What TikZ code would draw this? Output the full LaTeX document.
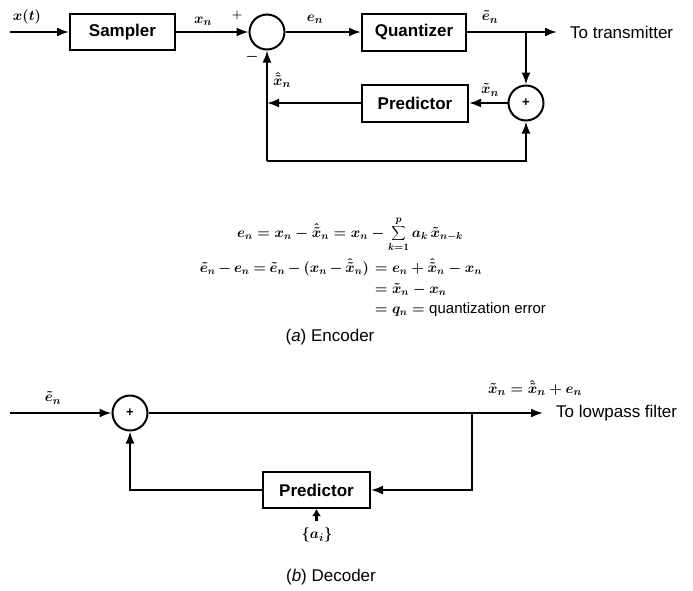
\documentclass[tikz,border=0pt]{standalone}
\usepackage{fontspec}
\setmainfont{Liberation Sans}
\usetikzlibrary{arrows.meta}
\begin{document}
\begin{tikzpicture}[x=1pt,y=-1pt,
  txt/.style={inner sep=0pt, font=\fontsize{17}{20}\selectfont},
  blk/.style={draw, line width=2pt, minimum width=106pt, minimum height=37pt, inner sep=0pt, font=\fontsize{17}{20}\selectfont\bfseries},
  sumc/.style={draw, circle, line width=2pt, minimum size=35pt, inner sep=0pt, font=\fontsize{13}{14}\selectfont\bfseries},
  wire/.style={line width=2pt},
  arr/.style={wire, -{Latex[length=12pt,width=9pt]}},
  lbl/.style={inner sep=0pt, font=\fontsize{15}{18}\selectfont\boldmath},
  eq/.style={inner sep=0pt, font=\fontsize{14}{17}\selectfont\boldmath},
]
\useasboundingbox (0,0) rectangle (693,590);

% ---------- Encoder ----------
\coordinate (in1) at (10,32);
\node[blk, minimum width=105pt, minimum height=36pt] (samp) at (122.5,32) {Sampler};
\node[sumc] (s1) at (267,32) {};
\node[blk, minimum width=104pt] (quant) at (414,32) {Quantizer};
\coordinate (j1) at (526,32);
\coordinate (out1) at (557,32);
\node[sumc] (p1) at (526,103) {+};
\node[blk] (pred1) at (415,103) {Predictor};
\coordinate (j2) at (267,103);
\coordinate (b1) at (267,161);
\coordinate (b2) at (526,161);

\draw[arr] (in1) -- (samp);
\draw[arr] (samp) -- (s1);
\draw[arr] (s1) -- (quant);
\draw[arr] (quant) -- (out1);
\draw[arr] (j1) -- (p1);
\draw[arr] (p1) -- (pred1);
\draw[arr] (pred1) -- (j2);
\draw[arr] (b1) -- (s1);
\draw[arr] (b1) -- (b2) -- (p1);

\node[lbl] (lxt) at (27,17) {$x(t)$};
\node[lbl] (lxn) at (203,21) {$x_n$};
\node[lbl, font=\fontsize{12}{14}\selectfont\boldmath] (lplus) at (237,15) {$+$};
\node[lbl] (lminus) at (252,57) {$-$};
\node[lbl] (len) at (315,19) {$e_n$};
\node[lbl] (let) at (490,17) {$\tilde e_n$};
\node[lbl] (lxt2) at (490,90) {$\tilde x_n$};
\node[lbl] (lxh) at (282,80) {$\hat{\tilde x}_n$};
\node[txt, anchor=west] (to1) at (570,32) {To transmitter};

\node[eq, anchor=base west] (eq1) at (237,237) {$e_n = x_n - \hat{\tilde x}_n = x_n - \displaystyle\sum_{k=1}^{p} a_k\,\tilde x_{n-k}$};
\node[eq, anchor=base east] (eq2a) at (369,272) {$\medmuskip=3mu\thickmuskip=4mu\tilde e_n - e_n = \tilde e_n - (x_n - \hat{\tilde x}_n)$};
\node[eq, anchor=base west] (eq2b) at (370,272) {${}= e_n + \hat{\tilde x}_n - x_n$};
\node[eq, anchor=base west] (eq3) at (370,293) {${}= \tilde x_n - x_n$};
\node[eq, anchor=base west] (eq4) at (370,313) {${}= q_n = \mbox{\fontsize{15}{18}\selectfont quantization error}$};
\node[txt] (capa) at (330,337) {(\textit{a}) Encoder};

% ---------- Decoder ----------
\coordinate (in2) at (10,413);
\node[sumc] (p2) at (130,413) {+};
\coordinate (j3) at (472,413);
\coordinate (out2) at (543,413);
\node[blk, minimum width=107pt, minimum height=36pt] (pred2) at (316.5,490) {Predictor};
\coordinate (j4) at (472,490);
\coordinate (c2) at (130,490);
\coordinate (ai) at (316.5,521);

\draw[arr] (in2) -- (p2);
\draw[arr] (p2) -- (out2);
\draw[arr] (j3) -- (j4) -- (pred2);
\draw[arr] (pred2) -- (c2) -- (p2);
\draw[line width=3.5pt, -{Latex[length=7pt,width=9pt]}] (ai) -- (pred2);

\node[lbl] (le2) at (53,398) {$\tilde e_n$};
\node[lbl, anchor=west] (lout) at (488,388) {$\tilde x_n = \hat{\tilde x}_n + e_n$};
\node[txt, anchor=west] (to2) at (556,413) {To lowpass filter};
\node[lbl] (lai) at (317,535) {$\{a_i\}$};
\node[txt] (capb) at (331,577) {(\textit{b}) Decoder};
\end{tikzpicture}
\end{document}
